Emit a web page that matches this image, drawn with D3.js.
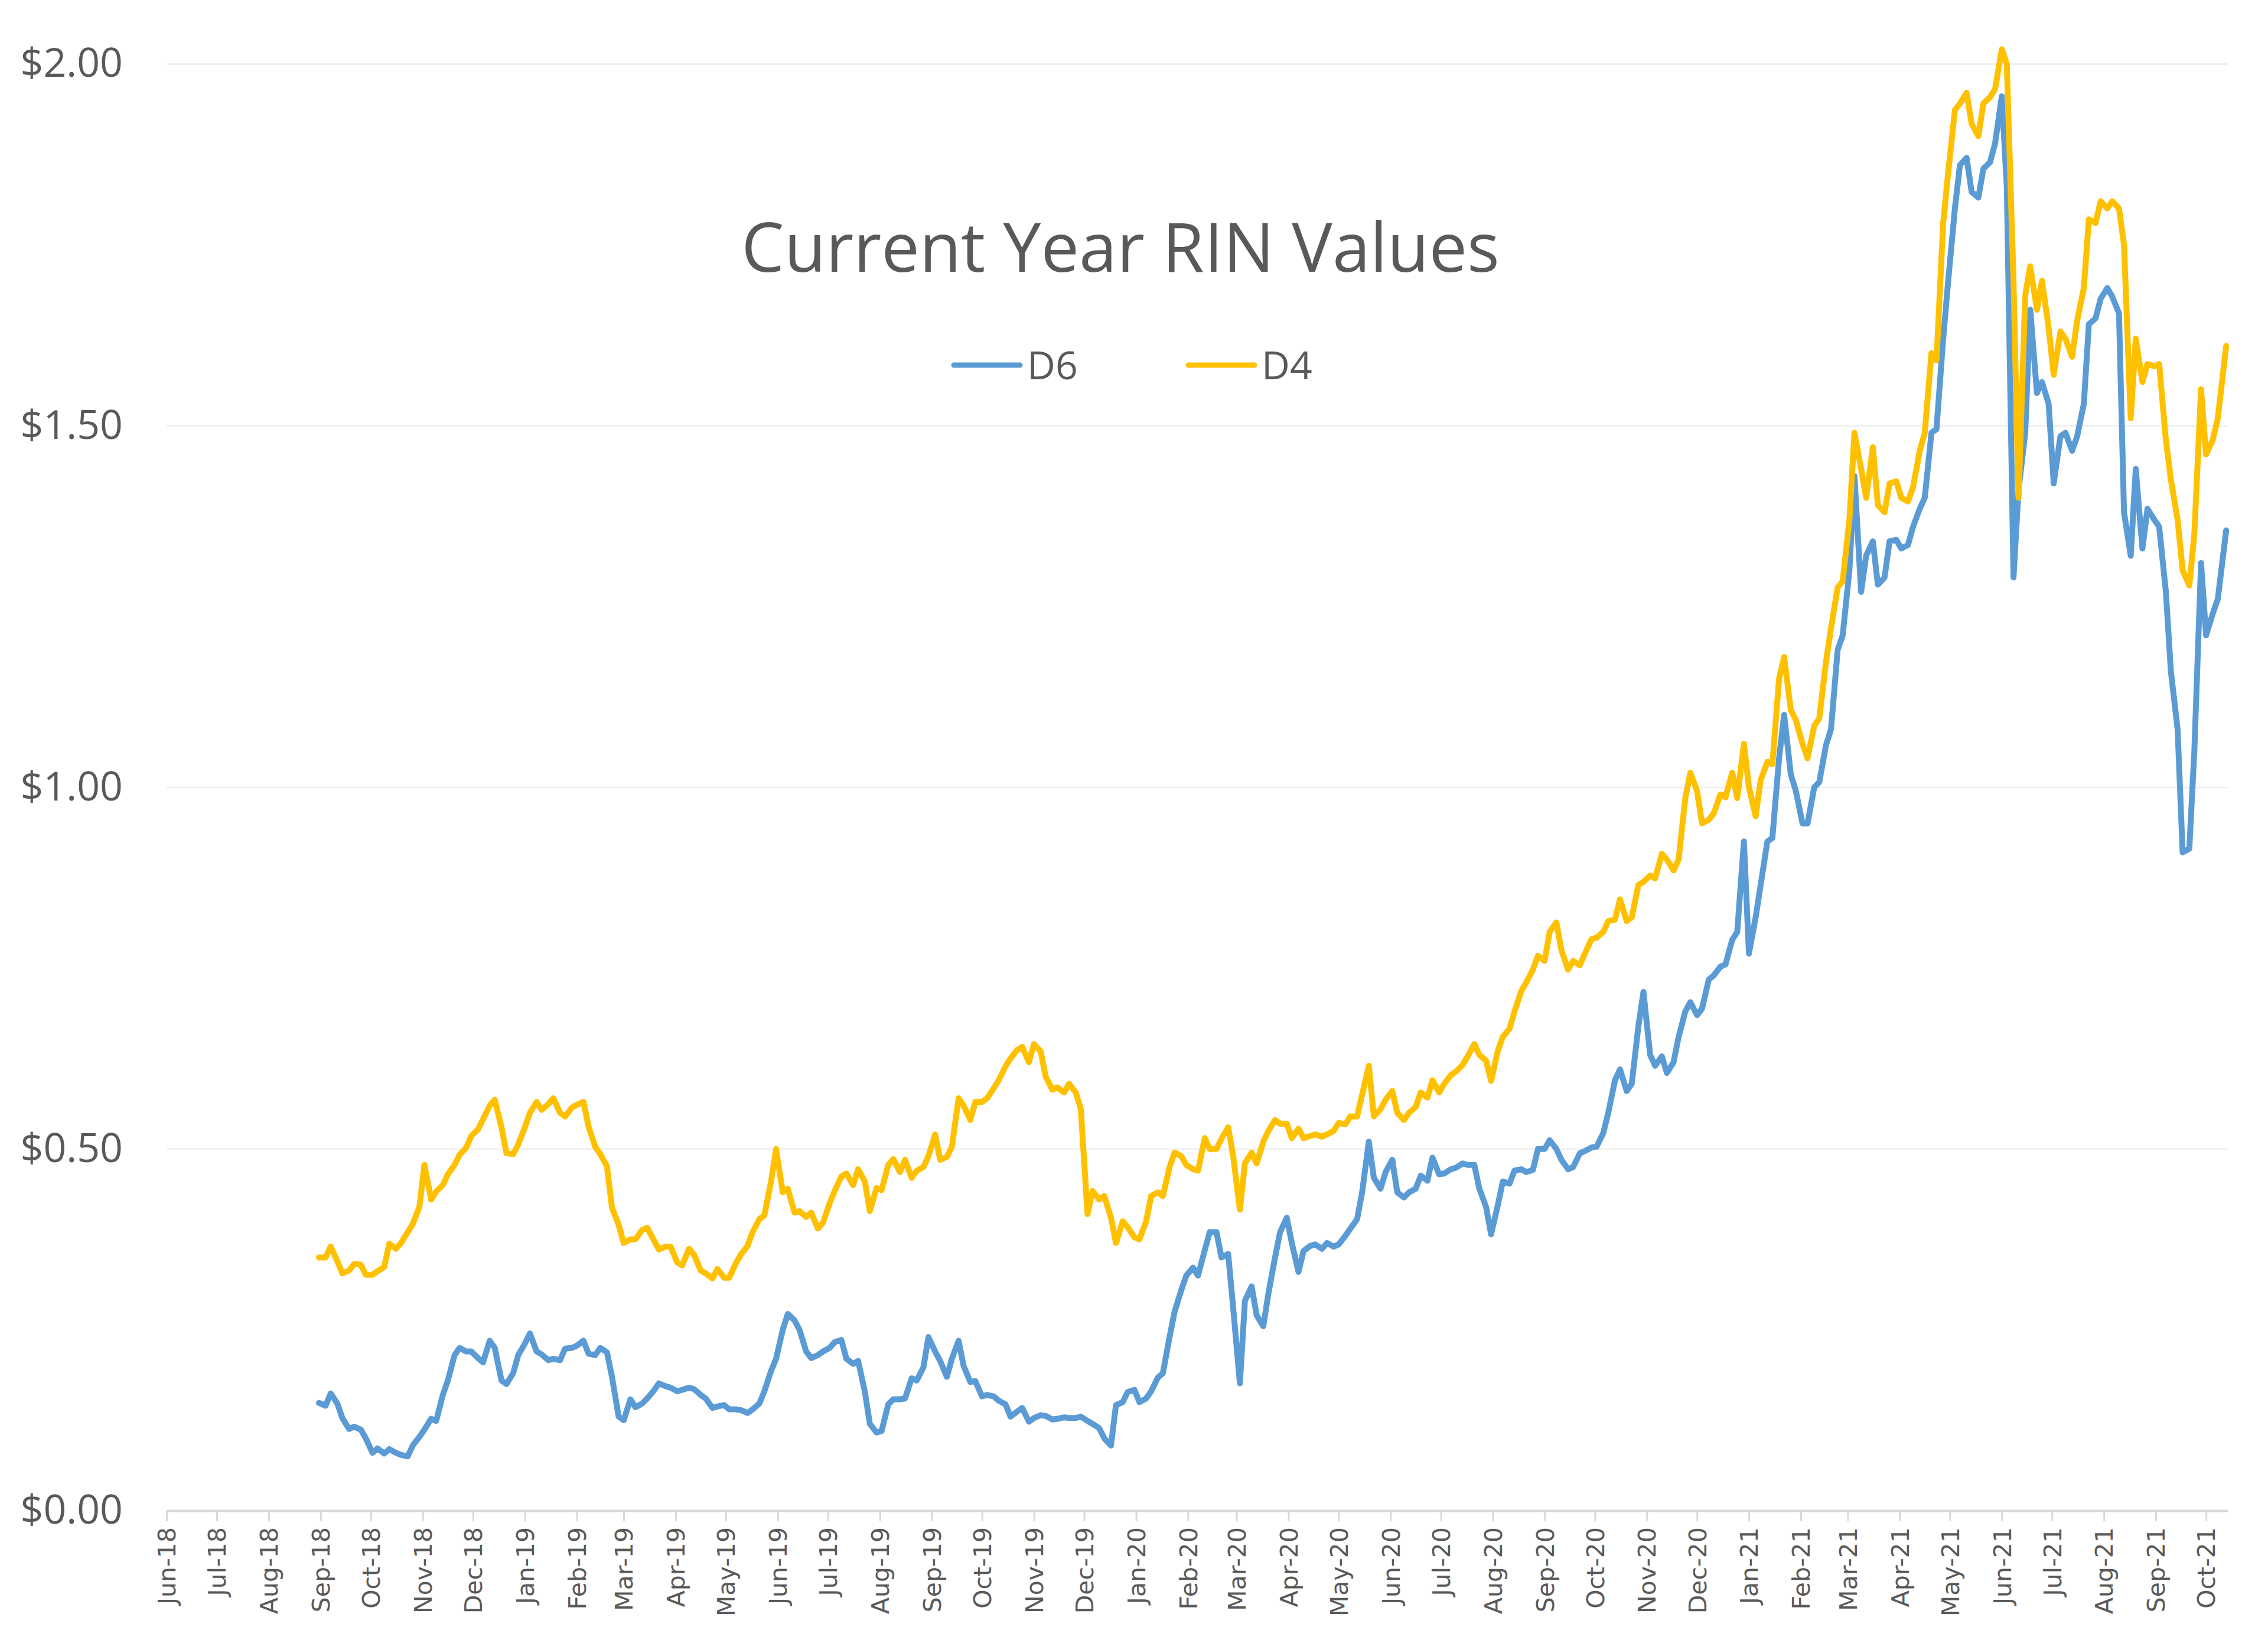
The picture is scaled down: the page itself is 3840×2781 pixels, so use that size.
<!DOCTYPE html>
<html><head><meta charset="utf-8">
<script src="https://cdn.jsdelivr.net/npm/d3@7"></script>
<style>body{margin:0;background:#fff}svg{display:block}</style>
</head><body>
<svg id="chart" width="3840" height="2781"></svg>
<script>
const title = "Current Year RIN Values";
const seriesNames = ["D6", "D4"];
const seriesColors = ["#5B9BD5", "#FFC000"];
const yTicks = [0, 0.5, 1, 1.5, 2];
const axisStart = "2018-06-01";
const axisEnd = "2021-10-14";

// Friday observations
const dates = [
"2018-08-31","2018-09-07","2018-09-14","2018-09-21","2018-09-28","2018-10-05","2018-10-12","2018-10-19","2018-10-26","2018-11-02",
"2018-11-09","2018-11-16","2018-11-23","2018-11-30","2018-12-07","2018-12-14","2018-12-21","2018-12-28",
"2019-01-04","2019-01-11","2019-01-18","2019-01-25","2019-02-01","2019-02-08","2019-02-15","2019-02-22","2019-03-01","2019-03-08",
"2019-03-15","2019-03-22","2019-03-29","2019-04-05","2019-04-12","2019-04-19","2019-04-26","2019-05-03","2019-05-10","2019-05-17",
"2019-05-24","2019-05-31","2019-06-07","2019-06-14","2019-06-21","2019-06-28","2019-07-05","2019-07-12","2019-07-19","2019-07-26",
"2019-08-02","2019-08-09","2019-08-16","2019-08-23","2019-08-30","2019-09-06","2019-09-13","2019-09-20","2019-09-27","2019-10-04",
"2019-10-11","2019-10-18","2019-10-25","2019-11-01","2019-11-08","2019-11-15","2019-11-22","2019-11-29","2019-12-06","2019-12-13",
"2019-12-20","2019-12-27",
"2020-01-03","2020-01-10","2020-01-17","2020-01-24","2020-01-31","2020-02-07","2020-02-14","2020-02-21","2020-02-28","2020-03-06",
"2020-03-13","2020-03-20","2020-03-27","2020-04-03","2020-04-10","2020-04-17","2020-04-24","2020-05-01","2020-05-08","2020-05-15",
"2020-05-22","2020-05-29","2020-06-05","2020-06-12","2020-06-19","2020-06-26","2020-07-03","2020-07-10","2020-07-17","2020-07-24",
"2020-07-31","2020-08-07","2020-08-14","2020-08-21","2020-08-28","2020-09-04","2020-09-11","2020-09-18","2020-09-25","2020-10-02",
"2020-10-09","2020-10-16","2020-10-23","2020-10-30","2020-11-06","2020-11-13","2020-11-20","2020-11-27","2020-12-04","2020-12-11",
"2020-12-18","2020-12-25",
"2021-01-01","2021-01-08","2021-01-15","2021-01-22","2021-01-29","2021-02-05","2021-02-12","2021-02-19","2021-02-26","2021-03-05",
"2021-03-12","2021-03-19","2021-03-26","2021-04-02","2021-04-09","2021-04-16","2021-04-23","2021-04-30","2021-05-07","2021-05-14",
"2021-05-21","2021-05-28","2021-06-04","2021-06-11","2021-06-18","2021-06-25","2021-07-02","2021-07-09","2021-07-16","2021-07-23",
"2021-07-30","2021-08-06","2021-08-13","2021-08-20","2021-08-27","2021-09-03","2021-09-10","2021-09-17","2021-09-24","2021-10-01",
"2021-10-08","2021-10-13"
];

const d6Values = [
0.149,0.162,0.128,0.116,0.100,0.086,0.085,0.077,0.090,0.112,
0.124,0.180,0.225,0.220,0.205,0.225,0.175,0.215,0.245,0.216,
0.210,0.224,0.228,0.217,0.225,0.185,0.125,0.143,0.155,0.176,
0.170,0.167,0.168,0.155,0.144,0.140,0.139,0.140,0.165,0.210,
0.272,0.250,0.211,0.220,0.233,0.210,0.207,0.120,0.110,0.154,
0.155,0.180,0.240,0.207,0.210,0.200,0.179,0.160,0.152,0.130,
0.142,0.128,0.131,0.127,0.128,0.130,0.120,0.100,0.146,0.164,
0.150,0.165,0.190,0.275,0.325,0.325,0.385,0.350,0.280,0.290,
0.270,0.300,0.385,0.370,0.359,0.368,0.370,0.368,0.390,0.440,
0.460,0.468,0.440,0.440,0.463,0.488,0.466,0.474,0.478,0.445,
0.382,0.455,0.470,0.468,0.500,0.512,0.485,0.475,0.497,0.503,
0.550,0.610,0.590,0.717,0.615,0.605,0.655,0.703,0.694,0.740,
0.755,0.800,0.770,0.865,0.930,1.100,0.995,0.950,1.007,1.080,
1.210,1.430,1.320,1.280,1.340,1.330,1.360,1.400,1.495,1.700,
1.860,1.823,1.855,1.890,1.830,1.410,1.660,1.560,1.420,1.490,
1.485,1.640,1.675,1.678,1.380,1.440,1.385,1.360,1.160,0.910,
1.050,1.210,1.260,1.355
];

const d4Values = [
0.350,0.365,0.328,0.341,0.326,0.331,0.369,0.370,0.396,0.478,
0.441,0.465,0.492,0.518,0.541,0.568,0.494,0.506,0.550,0.554,
0.570,0.545,0.561,0.531,0.493,0.419,0.370,0.375,0.391,0.361,
0.365,0.339,0.354,0.328,0.334,0.322,0.354,0.385,0.408,0.500,
0.445,0.414,0.412,0.398,0.442,0.466,0.472,0.414,0.443,0.486,
0.485,0.470,0.490,0.485,0.503,0.560,0.565,0.570,0.595,0.625,
0.641,0.645,0.600,0.585,0.590,0.555,0.442,0.435,0.370,0.392,
0.375,0.435,0.435,0.495,0.478,0.470,0.500,0.514,0.490,0.480,
0.480,0.525,0.535,0.515,0.515,0.520,0.520,0.536,0.545,0.575,
0.545,0.568,0.550,0.550,0.578,0.595,0.590,0.607,0.628,0.630,
0.594,0.655,0.690,0.730,0.767,0.800,0.775,0.760,0.770,0.792,
0.815,0.845,0.820,0.869,0.874,0.900,0.900,1.020,0.950,0.964,
0.986,0.985,1.000,1.010,1.032,1.180,1.093,1.040,1.095,1.220,
1.285,1.490,1.400,1.390,1.420,1.400,1.415,1.490,1.590,1.850,
1.945,1.917,1.945,1.965,2.000,1.400,1.720,1.700,1.570,1.620,
1.645,1.785,1.810,1.810,1.750,1.620,1.585,1.585,1.425,1.300,
1.350,1.460,1.510,1.610
];

// Tuesday observations
const midDates = [
"2018-09-04","2018-09-11","2018-09-18","2018-09-25","2018-10-02","2018-10-09","2018-10-16","2018-10-23","2018-10-30","2018-11-06",
"2018-11-13","2018-11-20","2018-11-27","2018-12-04","2018-12-11","2018-12-18","2018-12-25",
"2019-01-01","2019-01-08","2019-01-15","2019-01-22","2019-01-29","2019-02-05","2019-02-12","2019-02-19","2019-02-26","2019-03-05",
"2019-03-12","2019-03-19","2019-03-26","2019-04-02","2019-04-09","2019-04-16","2019-04-23","2019-04-30","2019-05-07","2019-05-14",
"2019-05-21","2019-05-28","2019-06-04","2019-06-11","2019-06-18","2019-06-25","2019-07-02","2019-07-09","2019-07-16","2019-07-23",
"2019-07-30","2019-08-06","2019-08-13","2019-08-20","2019-08-27","2019-09-03","2019-09-10","2019-09-17","2019-09-24","2019-10-01",
"2019-10-08","2019-10-15","2019-10-22","2019-10-29","2019-11-05","2019-11-12","2019-11-19","2019-11-26","2019-12-03","2019-12-10",
"2019-12-17","2019-12-24","2019-12-31",
"2020-01-07","2020-01-14","2020-01-21","2020-01-28","2020-02-04","2020-02-11","2020-02-18","2020-02-25","2020-03-03","2020-03-10",
"2020-03-17","2020-03-24","2020-03-31","2020-04-07","2020-04-14","2020-04-21","2020-04-28","2020-05-05","2020-05-12","2020-05-19",
"2020-05-26","2020-06-02","2020-06-09","2020-06-16","2020-06-23","2020-06-30","2020-07-07","2020-07-14","2020-07-21","2020-07-28",
"2020-08-04","2020-08-11","2020-08-18","2020-08-25","2020-09-01","2020-09-08","2020-09-15","2020-09-22","2020-09-29","2020-10-06",
"2020-10-13","2020-10-20","2020-10-27","2020-11-03","2020-11-10","2020-11-17","2020-11-24","2020-12-01","2020-12-08","2020-12-15",
"2020-12-22","2020-12-29",
"2021-01-05","2021-01-12","2021-01-19","2021-01-26","2021-02-02","2021-02-09","2021-02-16","2021-02-23","2021-03-02","2021-03-09",
"2021-03-16","2021-03-23","2021-03-30","2021-04-06","2021-04-13","2021-04-20","2021-04-27","2021-05-04","2021-05-11","2021-05-18",
"2021-05-25","2021-06-01","2021-06-08","2021-06-15","2021-06-22","2021-06-29","2021-07-06","2021-07-13","2021-07-20","2021-07-27",
"2021-08-03","2021-08-10","2021-08-17","2021-08-24","2021-08-31","2021-09-07","2021-09-14","2021-09-21","2021-09-28","2021-10-05"
];

const d6Mid = [
0.145,0.148,0.113,0.112,0.080,0.079,0.080,0.075,0.102,0.127,
0.160,0.215,0.220,0.211,0.235,0.180,0.190,0.231,0.220,0.208,
0.208,0.225,0.235,0.215,0.219,0.130,0.154,0.148,0.166,0.172,
0.165,0.170,0.160,0.142,0.146,0.140,0.135,0.148,0.193,0.250,
0.263,0.220,0.215,0.225,0.236,0.203,0.165,0.108,0.147,0.154,
0.183,0.198,0.220,0.185,0.235,0.178,0.158,0.158,0.147,0.137,
0.123,0.132,0.126,0.129,0.128,0.124,0.114,0.090,0.150,0.167,
0.155,0.184,0.240,0.305,0.336,0.360,0.385,0.355,0.176,0.310,
0.255,0.350,0.405,0.330,0.366,0.362,0.365,0.380,0.403,0.510,
0.445,0.485,0.433,0.445,0.456,0.465,0.472,0.480,0.478,0.420,
0.422,0.452,0.472,0.471,0.500,0.500,0.472,0.494,0.502,0.522,
0.595,0.580,0.670,0.630,0.628,0.620,0.690,0.685,0.734,0.752,
0.789,0.925,0.820,0.925,1.040,1.018,0.950,1.000,1.058,1.190,
1.300,1.270,1.340,1.290,1.342,1.335,1.385,1.490,1.620,1.800,
1.870,1.815,1.864,1.955,1.290,1.490,1.545,1.530,1.485,1.465,
1.530,1.648,1.690,1.655,1.320,1.330,1.370,1.270,1.080,0.915,
1.310,1.240
];

const d4Mid = [
0.350,0.345,0.332,0.340,0.326,0.337,0.362,0.385,0.420,0.430,
0.450,0.478,0.502,0.527,0.560,0.530,0.493,0.530,0.565,0.562,
0.550,0.557,0.565,0.503,0.476,0.395,0.375,0.388,0.374,0.365,
0.343,0.362,0.332,0.321,0.322,0.342,0.366,0.403,0.455,0.440,
0.412,0.406,0.390,0.425,0.462,0.450,0.455,0.446,0.478,0.468,
0.460,0.475,0.520,0.489,0.570,0.540,0.565,0.584,0.614,0.637,
0.620,0.635,0.582,0.578,0.578,0.410,0.430,0.405,0.400,0.378,
0.400,0.440,0.475,0.490,0.472,0.515,0.500,0.530,0.416,0.495,
0.510,0.540,0.535,0.528,0.518,0.517,0.525,0.534,0.545,0.615,
0.555,0.580,0.540,0.558,0.571,0.578,0.602,0.616,0.645,0.622,
0.635,0.666,0.718,0.748,0.760,0.813,0.748,0.754,0.790,0.800,
0.817,0.815,0.865,0.878,0.908,0.885,0.985,0.995,0.955,0.990,
1.020,1.060,0.960,1.035,1.150,1.107,1.060,1.085,1.173,1.276,
1.370,1.440,1.470,1.380,1.423,1.395,1.465,1.600,1.780,1.936,
1.960,1.900,1.954,2.020,1.700,1.680,1.660,1.635,1.630,1.595,
1.690,1.780,1.800,1.800,1.510,1.560,1.582,1.480,1.370,1.279,
1.550,1.480
];

const parse = d3.timeParse("%Y-%m-%d");
const svg = d3.select("#chart");
const textColor = "#595959";

const x = d3.scaleTime().domain([parse(axisStart), parse(axisEnd)]).range([282, 3772]);
const y = d3.scaleLinear().domain([0, 2]).range([2557, 108]);

// y axis with gridlines
const yAxis = d3.axisLeft(y).tickValues(yTicks)
  .tickSize(-(x.range()[1] - x.range()[0]))
  .tickPadding(74)
  .tickFormat(d => "$" + d3.format(".2f")(d));
const gy = svg.append("g").attr("transform", `translate(${x.range()[0]},0)`).call(yAxis);
gy.select(".domain").remove();
gy.selectAll(".tick line").attr("stroke", "#EFEFEF").attr("stroke-width", 3);
gy.selectAll(".tick text").attr("fill", textColor)
  .style("font-family", "'Open Sans', sans-serif").style("font-size", "68px");

// x axis
const months = d3.timeMonth.range(parse(axisStart), d3.timeDay.offset(parse("2021-10-01"), 1));
const xAxis = d3.axisBottom(x).tickValues(months).tickSize(18).tickSizeOuter(0)
  .tickFormat(d3.timeFormat("%b-%y"));
const gx = svg.append("g").attr("transform", `translate(0,${y(0)})`).call(xAxis);
gx.select(".domain").attr("stroke", "#D9D9D9").attr("stroke-width", 4);
gx.selectAll(".tick line").attr("stroke", "#D9D9D9").attr("stroke-width", 3);
gx.selectAll(".tick text")
  .attr("fill", textColor)
  .style("font-family", "'DejaVu Sans', sans-serif").style("font-size", "41px")
  .attr("transform", "rotate(-90)")
  .attr("x", -28).attr("y", 0).attr("dy", "0.36em")
  .style("text-anchor", "end");

// series: merge Friday and Tuesday observations in date order
function buildPoints(mainVals, midVals) {
  const pts = dates.map((d, i) => ({ date: parse(d), value: mainVals[i] }))
    .concat(midDates.map((d, i) => ({ date: parse(d), value: midVals[i] })));
  return pts.sort((a, b) => a.date - b.date);
}
const series = [
  { name: seriesNames[0], color: seriesColors[0], points: buildPoints(d6Values, d6Mid) },
  { name: seriesNames[1], color: seriesColors[1], points: buildPoints(d4Values, d4Mid) }
];
const line = d3.line().x(d => x(d.date)).y(d => y(d.value));
series.forEach(s => {
  svg.append("path").datum(s.points)
    .attr("d", line)
    .attr("fill", "none")
    .attr("stroke", s.color)
    .attr("stroke-width", 10)
    .attr("stroke-linejoin", "round")
    .attr("stroke-linecap", "round");
});

// title
svg.append("text").attr("x", 1897).attr("y", 460)
  .attr("text-anchor", "middle")
  .attr("fill", textColor)
  .style("font-family", "'Open Sans', sans-serif").style("font-size", "115px")
  .text(title);

// legend
const legendX = [1615, 2012];
series.forEach((s, i) => {
  const g = svg.append("g").attr("transform", `translate(${legendX[i]},618)`);
  g.append("line").attr("x1", 0).attr("x2", 112).attr("y1", 0).attr("y2", 0)
    .attr("stroke", s.color).attr("stroke-width", 9).attr("stroke-linecap", "round");
  g.append("text").attr("x", 124).attr("y", 0).attr("dy", "0.36em")
    .attr("fill", textColor)
    .style("font-family", "'Open Sans', sans-serif").style("font-size", "66px")
    .text(s.name);
});
</script>
</body></html>
